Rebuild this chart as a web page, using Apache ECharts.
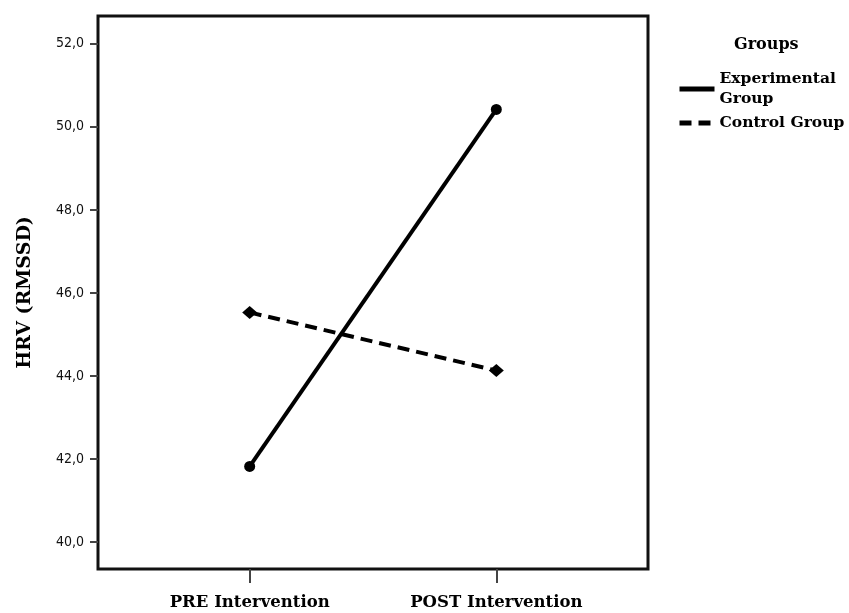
<!DOCTYPE html>
<html>
<head>
<meta charset="utf-8">
<script src="https://cdn.jsdelivr.net/npm/echarts@6/dist/echarts.min.js"></script>
<style>
html,body{margin:0;padding:0;background:#fff;}
#chart{width:849px;height:613px;}
</style>
</head>
<body>
<div id="chart"></div>
<script>
var categories = ['PRE Intervention', 'POST Intervention'];
var experimental = [41.82, 50.42];
var control = [45.53, 44.13];
var yTicks = [40, 42, 44, 46, 48, 50, 52];
var seriesNames = ['Experimental\nGroup', 'Control Group'];

var chart = echarts.init(document.getElementById('chart'));
var serif = '"DejaVu Serif", serif';
var sans = '"DejaVu Sans Condensed", "DejaVu Sans", sans-serif';

function pts(vals) { return vals.map(function (v, i) { return [i, v]; }); }

chart.setOption({
  animation: false,
  backgroundColor: '#fff',
  grid: { left: 98, right: 201, top: 16, bottom: 44, show: true, borderColor: '#111', borderWidth: 3, backgroundColor: 'transparent' },
  legend: {
    left: 677, top: 69, orient: 'vertical', itemWidth: 35, itemHeight: 12, itemGap: 4, padding: 0,
    textStyle: { fontFamily: serif, fontWeight: 'bold', fontSize: 15.5, color: '#000', lineHeight: 20 },
    itemStyle: { opacity: 0 },
    lineStyle: { width: 5 },
    data: seriesNames
  },
  title: {
    text: 'Groups', left: 734, top: 37, padding: 0,
    textStyle: { fontFamily: serif, fontWeight: 'bold', fontSize: 16, color: '#000' }
  },
  xAxis: {
    type: 'value', min: -0.615, max: 1.615,
    splitLine: { show: false },
    axisLine: { show: false, onZero: false },
    axisTick: { show: true, length: 14, lineStyle: { color: '#444', width: 2 }, customValues: [0, 1] },
    axisLabel: {
      customValues: [0, 1], margin: 25,
      formatter: function (v) { return categories[Math.round(v)]; },
      fontFamily: serif, fontWeight: 'bold', fontSize: 16.5, color: '#000'
    }
  },
  yAxis: {
    type: 'value', min: 39.35, max: 52.67,
    name: 'HRV (RMSSD)', nameLocation: 'middle', nameGap: 63,
    nameTextStyle: { fontFamily: serif, fontWeight: 'bold', fontSize: 19, color: '#000' },
    splitLine: { show: false },
    axisLine: { show: false, onZero: false },
    axisTick: { show: true, length: 8, lineStyle: { color: '#444', width: 2 }, customValues: yTicks },
    axisLabel: {
      customValues: yTicks, margin: 14,
      formatter: function (v) { return v.toFixed(1).replace('.', ','); },
      fontFamily: sans, fontSize: 14, color: '#111'
    }
  },
  series: [
    {
      name: seriesNames[0], type: 'line', data: pts(experimental),
      symbol: 'circle', symbolSize: 11,
      lineStyle: { color: '#000', width: 4 },
      itemStyle: { color: '#000' }
    },
    {
      name: seriesNames[1], type: 'line', data: pts(control),
      symbol: 'diamond', symbolSize: [15, 13],
      lineStyle: { color: '#000', width: 4, type: [12, 7] },
      itemStyle: { color: '#000' }
    }
  ]
});
</script>
</body>
</html>
